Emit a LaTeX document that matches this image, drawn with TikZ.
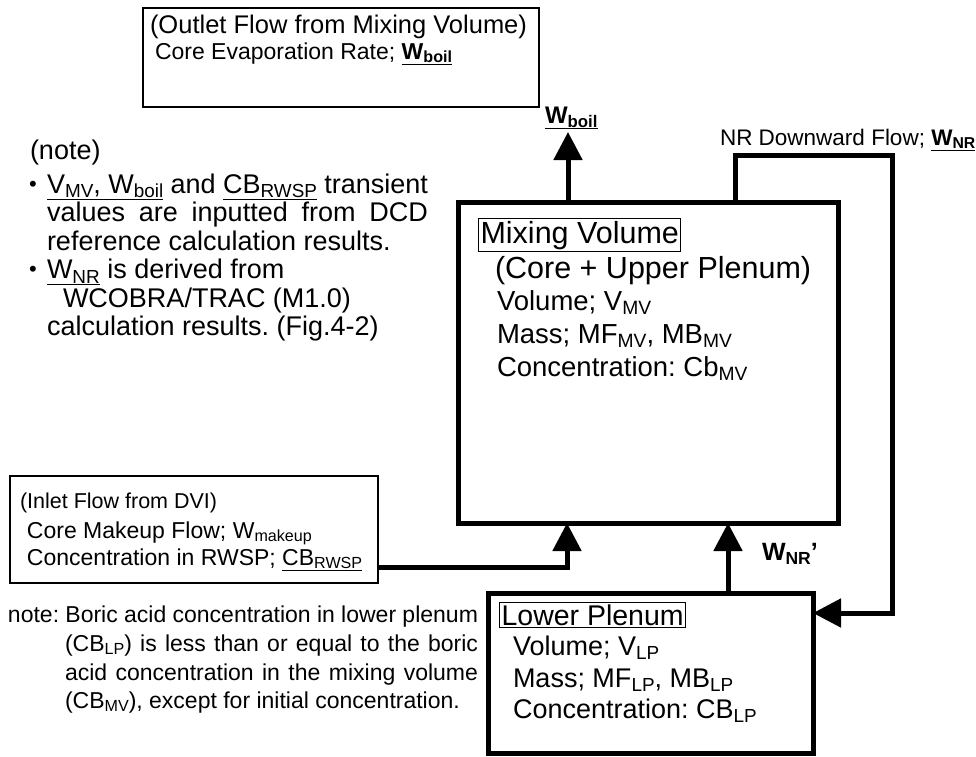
\documentclass[tikz,border=0pt]{standalone}
\usepackage{fontspec}
\setmainfont{Liberation Sans}
\usetikzlibrary{arrows.meta}
\newcommand\fs[1]{\fontsize{#1}{#1}\selectfont}
\makeatletter
\newcommand\sbx[1]{\raisebox{-0.17em}{\fontsize{\strip@pt\dimexpr\f@size pt*70/100\relax}{0pt}\selectfont #1}}
\makeatother
\frenchspacing
\begin{document}
\begin{tikzpicture}[x=1pt,y=-1pt,
  thickbox/.style={draw, line width=5pt, inner sep=0pt, outer sep=0pt, anchor=north west},
  thinbox/.style={draw, line width=1.6pt, inner sep=0pt, outer sep=0pt, anchor=north west},
  txt/.style={anchor=base west, inner sep=0pt, outer sep=0pt},
  titlebox/.style={anchor=base west, draw, line width=1.1pt, inner sep=2pt},
  flow/.style={line width=5pt, -{Triangle[width=28pt,length=28pt]}}]
\useasboundingbox (0,0) rectangle (976,756);
% boxes
\node[thinbox, minimum width=396pt, minimum height=99pt] (outlet) at (143,8) {};
\node[thickbox, minimum width=380pt, minimum height=321pt] (mv) at (458,202) {};
\node[thickbox, minimum width=325pt, minimum height=160pt] (lp) at (488,593) {};
\node[thinbox, minimum width=368pt, minimum height=107pt] (inlet) at (10,476) {};
% connectors
\coordinate (boiltip) at (568,132);
\draw[flow] (boiltip |- mv.north) -- (boiltip);
\coordinate (nr1) at (735,155);
\coordinate (nr2) at (892,155);
\coordinate (nr3) at (892,613);
\draw[flow] (nr1 |- mv.north) -- (nr1) -- (nr2) -- (nr3) -- (lp.east |- nr3);
\coordinate (inj) at (567,567);
\draw[flow] (inlet.east |- inj) -- (inj) -- (inj |- mv.south);
\coordinate (nrp) at (728,560);
\draw[flow] (nrp |- lp.north) -- (nrp |- mv.south);
% flow labels
\node[txt, font=\bfseries\fs{24}] (wboil) at (545,123) {\underline{W\sbx{boil}}};
\node[txt, font=\fs{22.5}] (nrlabel) at (720,145) {NR Downward Flow; \textbf{\underline{W\sbx{NR}}}};
\node[txt, font=\bfseries\fs{25}] (wnrp) at (762,560) {W\sbx{NR}'};
% outlet text
\node[txt, font=\fs{25.5}] (outt) at (150,33) {(Outlet Flow from Mixing Volume)};
\node[txt, font=\fs{23}] (outl) at (155,59) {Core Evaporation Rate; \textbf{\underline{W\sbx{boil}}}};
% note block
\node[txt, font=\fs{27}] (note) at (30,159) {(note)};
\node[txt, font=\fs{22}] (b1) at (29,191) {•};
\node[txt, font=\fs{27}] (n1) at (47,193) {\makebox[381pt][s]{\underline{V\sbx{MV}, W\sbx{boil}} and \underline{CB\sbx{RWSP}} transient}};
\node[txt, font=\fs{27}] (n2) at (47,221.5) {\makebox[381pt][s]{values are inputted from DCD}};
\node[txt, font=\fs{27}] (n3) at (47,250) {reference calculation results.};
\node[txt, font=\fs{22}] (b2) at (29,276.5) {•};
\node[txt, font=\fs{27}] (n4) at (47,278.5) {\underline{W\sbx{NR}} is derived from};
\node[txt, font=\fs{27}] (n5) at (63,307) {WCOBRA/TRAC (M1.0)};
\node[txt, font=\fs{27}] (n6) at (47,335.5) {calculation results. (Fig.4-2)};
% mixing volume text
\node[titlebox, font=\fs{30.5}] (mvt) at (478,243) {Mixing Volume};
\node[txt, font=\fs{30.5}] (mv1) at (495,278) {(Core + Upper Plenum)};
\node[txt, font=\fs{27.5}] (mv2) at (497,310) {Volume; V\sbx{MV}};
\node[txt, font=\fs{27.5}] (mv3) at (497,343) {Mass; MF\sbx{MV}, MB\sbx{MV}};
\node[txt, font=\fs{27.5}] (mv4) at (497,376) {Concentration: Cb\sbx{MV}};
% inlet text
\node[txt, font=\fs{21.5}] (i1) at (20,508) {(Inlet Flow from DVI)};
\node[txt, font=\fs{23}] (i2) at (27,538) {Core Makeup Flow; W\sbx{makeup}};
\node[txt, font=\fs{23}] (i3) at (27,565) {Concentration in RWSP; \underline{CB\sbx{RWSP}}};
% bottom note
\node[txt, font=\fs{23}] (l1) at (8,622) {\makebox[470pt][s]{note: Boric acid concentration in lower plenum}};
\node[txt, font=\fs{23}] (l2) at (65,651) {\makebox[413pt][s]{(CB\sbx{LP}) is less than or equal to the boric}};
\node[txt, font=\fs{23}] (l3) at (65,680) {\makebox[413pt][s]{acid concentration in the mixing volume}};
\node[txt, font=\fs{23}] (l4) at (65,708) {(CB\sbx{MV}), except for initial concentration.};
% lower plenum text
\node[titlebox, font=\fs{28.5}] (lpt) at (499,625) {Lower Plenum};
\node[txt, font=\fs{27}] (lp1) at (513,655) {Volume; V\sbx{LP}};
\node[txt, font=\fs{27}] (lp2) at (513,687) {Mass; MF\sbx{LP}, MB\sbx{LP}};
\node[txt, font=\fs{27}] (lp3) at (513,718) {Concentration: CB\sbx{LP}};
\end{tikzpicture}
\end{document}
